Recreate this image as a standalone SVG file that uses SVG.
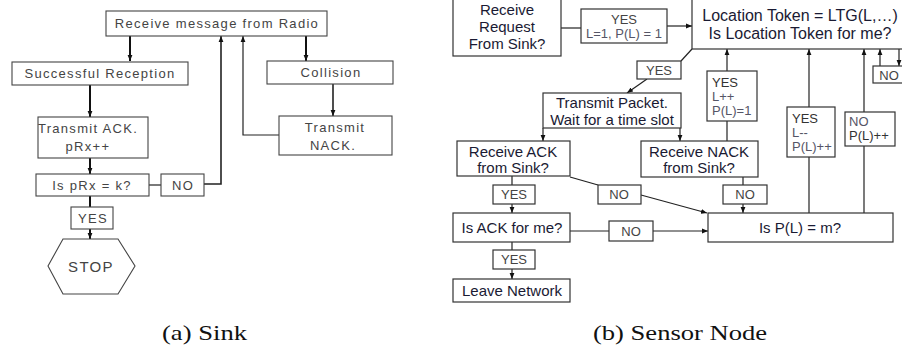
<svg xmlns="http://www.w3.org/2000/svg" width="902" height="353" viewBox="0 0 902 353">
<defs>
<marker id="ah" viewBox="0 0 10 10" refX="10" refY="5" markerWidth="6" markerHeight="6" markerUnits="userSpaceOnUse" orient="auto"><path d="M0,1 L10,5 L0,9 z" fill="#111"/></marker>
<style>
.bx{fill:#fff;stroke:#333;stroke-width:1.2}
.sbx{fill:#fff;stroke:#444;stroke-width:1.1}
.st{font-family:"Liberation Sans",Arial,sans-serif;font-size:13px;fill:#444;letter-spacing:1.3px;text-anchor:middle}
.t{font-family:"Liberation Sans",Arial,sans-serif;font-size:15px;fill:#1a1a33;text-anchor:middle}
.tb{font-family:"Liberation Sans",Arial,sans-serif;font-size:16px;fill:#1a1a33;text-anchor:middle}
.lb{font-family:"Liberation Sans",Arial,sans-serif;font-size:13px;fill:#444;text-anchor:middle}
.ll{font-family:"Liberation Sans",Arial,sans-serif;font-size:13px;fill:#556}
.cap{font-family:"Liberation Serif","Times New Roman",serif;font-size:21px;fill:#111}
.c{fill:none;stroke:#222;stroke-width:1.2}
.ck{fill:none;stroke:#111;stroke-width:2}
</style>
</defs>

<g id="connectors">
<!-- sink -->
<path class="ck" d="M130,36 V61" marker-end="url(#ah)"/>
<path class="ck" d="M90,85 V117" marker-end="url(#ah)"/>
<path class="ck" d="M90,158 V174" marker-end="url(#ah)"/>
<path class="ck" d="M90,196 V207"/>
<path class="ck" d="M90,229 V239" marker-end="url(#ah)"/>
<path class="ck" d="M306,36 V61" marker-end="url(#ah)"/>
<path class="c" style="stroke-width:1.6" d="M333,84 V116" marker-end="url(#ah)"/>
<path class="c" d="M279,135 H243 V36" marker-end="url(#ah)"/>
<path class="c" d="M149,185 H161"/>
<path class="c" style="stroke-width:1.6" d="M204,184 H221 V36" marker-end="url(#ah)"/>
<!-- sensor -->
<path class="c" d="M561,28 H581"/>
<path class="c" d="M667,26 H692" marker-end="url(#ah)"/>
<path class="c" d="M692,49 L681,61"/>
<path class="c" d="M647,79 L627,93" marker-end="url(#ah)"/>
<path class="c" d="M543,128 V141" marker-end="url(#ah)"/>
<path class="c" d="M680,128 V141" marker-end="url(#ah)"/>
<path class="c" d="M727,141 V121"/>
<path class="c" d="M727,71 V49" marker-end="url(#ah)"/>
<path class="c" d="M809,213 V157"/>
<path class="c" d="M809,107 V49" marker-end="url(#ah)"/>
<path class="c" d="M864,213 V146"/>
<path class="c" d="M864,112 V49" marker-end="url(#ah)"/>
<path class="c" d="M880,66 V49" marker-end="url(#ah)"/>
<path class="c" d="M899,49 V66" marker-end="url(#ah)"/>
<path class="c" d="M512,176 V185"/>
<path class="c" d="M512,204 V213" marker-end="url(#ah)"/>
<path class="c" d="M512,242 V250"/>
<path class="c" d="M512,269 V279" marker-end="url(#ah)"/>
<path class="c" d="M570,177 L598,185"/>
<path class="c" d="M641,195 L707,213" marker-end="url(#ah)"/>
<path class="c" d="M570,231 H609"/>
<path class="c" d="M653,231 H708" marker-end="url(#ah)"/>
<path class="c" d="M743,177 V185"/>
<path class="c" d="M743,204 V213" marker-end="url(#ah)"/>
</g>

<!-- Sink nodes -->
<g id="recv-radio"><rect class="sbx" x="106" y="11" width="221" height="25"/><text class="st" x="217" y="28">Receive message from Radio</text></g>
<g id="success"><rect class="sbx" x="12" y="62" width="176" height="23"/><text class="st" x="100" y="78">Successful Reception</text></g>
<g id="tx-ack"><rect class="sbx" x="38" y="117" width="110" height="41"/><text class="st" x="88" y="133">Transmit ACK.</text><text class="st" x="88" y="151">pRx++</text></g>
<g id="is-prx"><rect class="sbx" x="36" y="174" width="113" height="22"/><text class="st" x="92" y="190">Is pRx = k?</text></g>
<g id="sink-no"><rect class="sbx" x="161" y="174" width="43" height="22"/><text class="st" x="183" y="190">NO</text></g>
<g id="sink-yes"><rect class="sbx" x="71" y="207" width="42" height="22"/><text class="st" x="93" y="223">YES</text></g>
<g id="stop"><polygon class="sbx" points="48,266 63,239 118,239 135,266 118,294 63,294"/><text class="st" style="font-size:15px" x="91" y="272">STOP</text></g>
<g id="collision"><rect class="sbx" x="267" y="61" width="126" height="23"/><text class="st" x="331" y="77">Collision</text></g>
<g id="tx-nack"><rect class="sbx" x="279" y="116" width="113" height="39"/><text class="st" x="335" y="132">Transmit</text><text class="st" x="333" y="150">NACK.</text></g>

<!-- Sensor nodes -->
<g id="recv-req"><rect class="bx" x="453" y="-2" width="108" height="58"/><text class="t" x="507" y="15">Receive</text><text class="t" x="507" y="32">Request</text><text class="t" x="507" y="49">From Sink?</text></g>
<g id="yes-l1"><rect class="bx" x="581" y="9" width="86" height="34"/><text class="lb" x="624" y="24">YES</text><text class="lb" x="624" y="38" style="fill:#556">L=1, P(L) = 1</text></g>
<g id="location"><rect class="bx" x="692" y="-2" width="215" height="51"/><text class="tb" x="800" y="21">Location Token = LTG(L,…)</text><text class="tb" x="800" y="39">Is Location Token for me?</text></g>
<g id="loc-yes"><rect class="bx" x="637" y="61" width="44" height="18"/><text class="lb" x="659" y="75">YES</text></g>
<g id="loc-no"><rect class="bx" x="873" y="66" width="34" height="17"/><text class="lb" x="889" y="80">NO</text></g>
<g id="tx-packet"><rect class="bx" x="543" y="93" width="138" height="35"/><text class="t" x="612" y="108">Transmit Packet.</text><text class="t" x="612" y="125">Wait for a time slot</text></g>
<g id="recv-ack"><rect class="bx" x="457" y="141" width="113" height="35"/><text class="t" x="513" y="157">Receive ACK</text><text class="t" x="513" y="173">from Sink?</text></g>
<g id="recv-nack"><rect class="bx" x="641" y="141" width="117" height="36"/><text class="t" x="699" y="157">Receive NACK</text><text class="t" x="699" y="173">from Sink?</text></g>
<g id="yes-lpp"><rect class="bx" x="707" y="71" width="50" height="50"/><text class="ll" x="712" y="87" style="fill:#333">YES</text><text class="ll" x="712" y="101">L++</text><text class="ll" x="712" y="115">P(L)=1</text></g>
<g id="yes-lmm"><rect class="bx" x="787" y="107" width="48" height="50"/><text class="ll" x="792" y="123" style="fill:#333">YES</text><text class="ll" x="792" y="137">L--</text><text class="ll" x="792" y="151">P(L)++</text></g>
<g id="no-ppp"><rect class="bx" x="845" y="112" width="50" height="34"/><text class="ll" x="849" y="126">NO</text><text class="ll" x="849" y="140" style="fill:#333">P(L)++</text></g>
<g id="ack-yes"><rect class="bx" x="493" y="185" width="42" height="19"/><text class="lb" x="514" y="199">YES</text></g>
<g id="ack-no"><rect class="bx" x="598" y="185" width="43" height="19"/><text class="lb" x="619" y="199">NO</text></g>
<g id="nack-no"><rect class="bx" x="723" y="185" width="44" height="19"/><text class="lb" x="745" y="199">NO</text></g>
<g id="is-ack"><rect class="bx" x="453" y="213" width="117" height="29"/><text class="t" x="512" y="233">Is ACK for me?</text></g>
<g id="isack-no"><rect class="bx" x="609" y="221" width="44" height="20"/><text class="lb" x="631" y="236">NO</text></g>
<g id="is-pl"><rect class="bx" x="708" y="213" width="185" height="29"/><text class="t" x="800" y="233">Is P(L) = m?</text></g>
<g id="isack-yes"><rect class="bx" x="493" y="250" width="42" height="19"/><text class="lb" x="514" y="264">YES</text></g>
<g id="leave"><rect class="bx" x="453" y="279" width="117" height="23"/><text class="t" x="512" y="296">Leave Network</text></g>

<text class="cap" x="162" y="340" textLength="85" lengthAdjust="spacingAndGlyphs">(a) Sink</text>
<text class="cap" x="593" y="340" textLength="174" lengthAdjust="spacingAndGlyphs">(b) Sensor Node</text>
</svg>
